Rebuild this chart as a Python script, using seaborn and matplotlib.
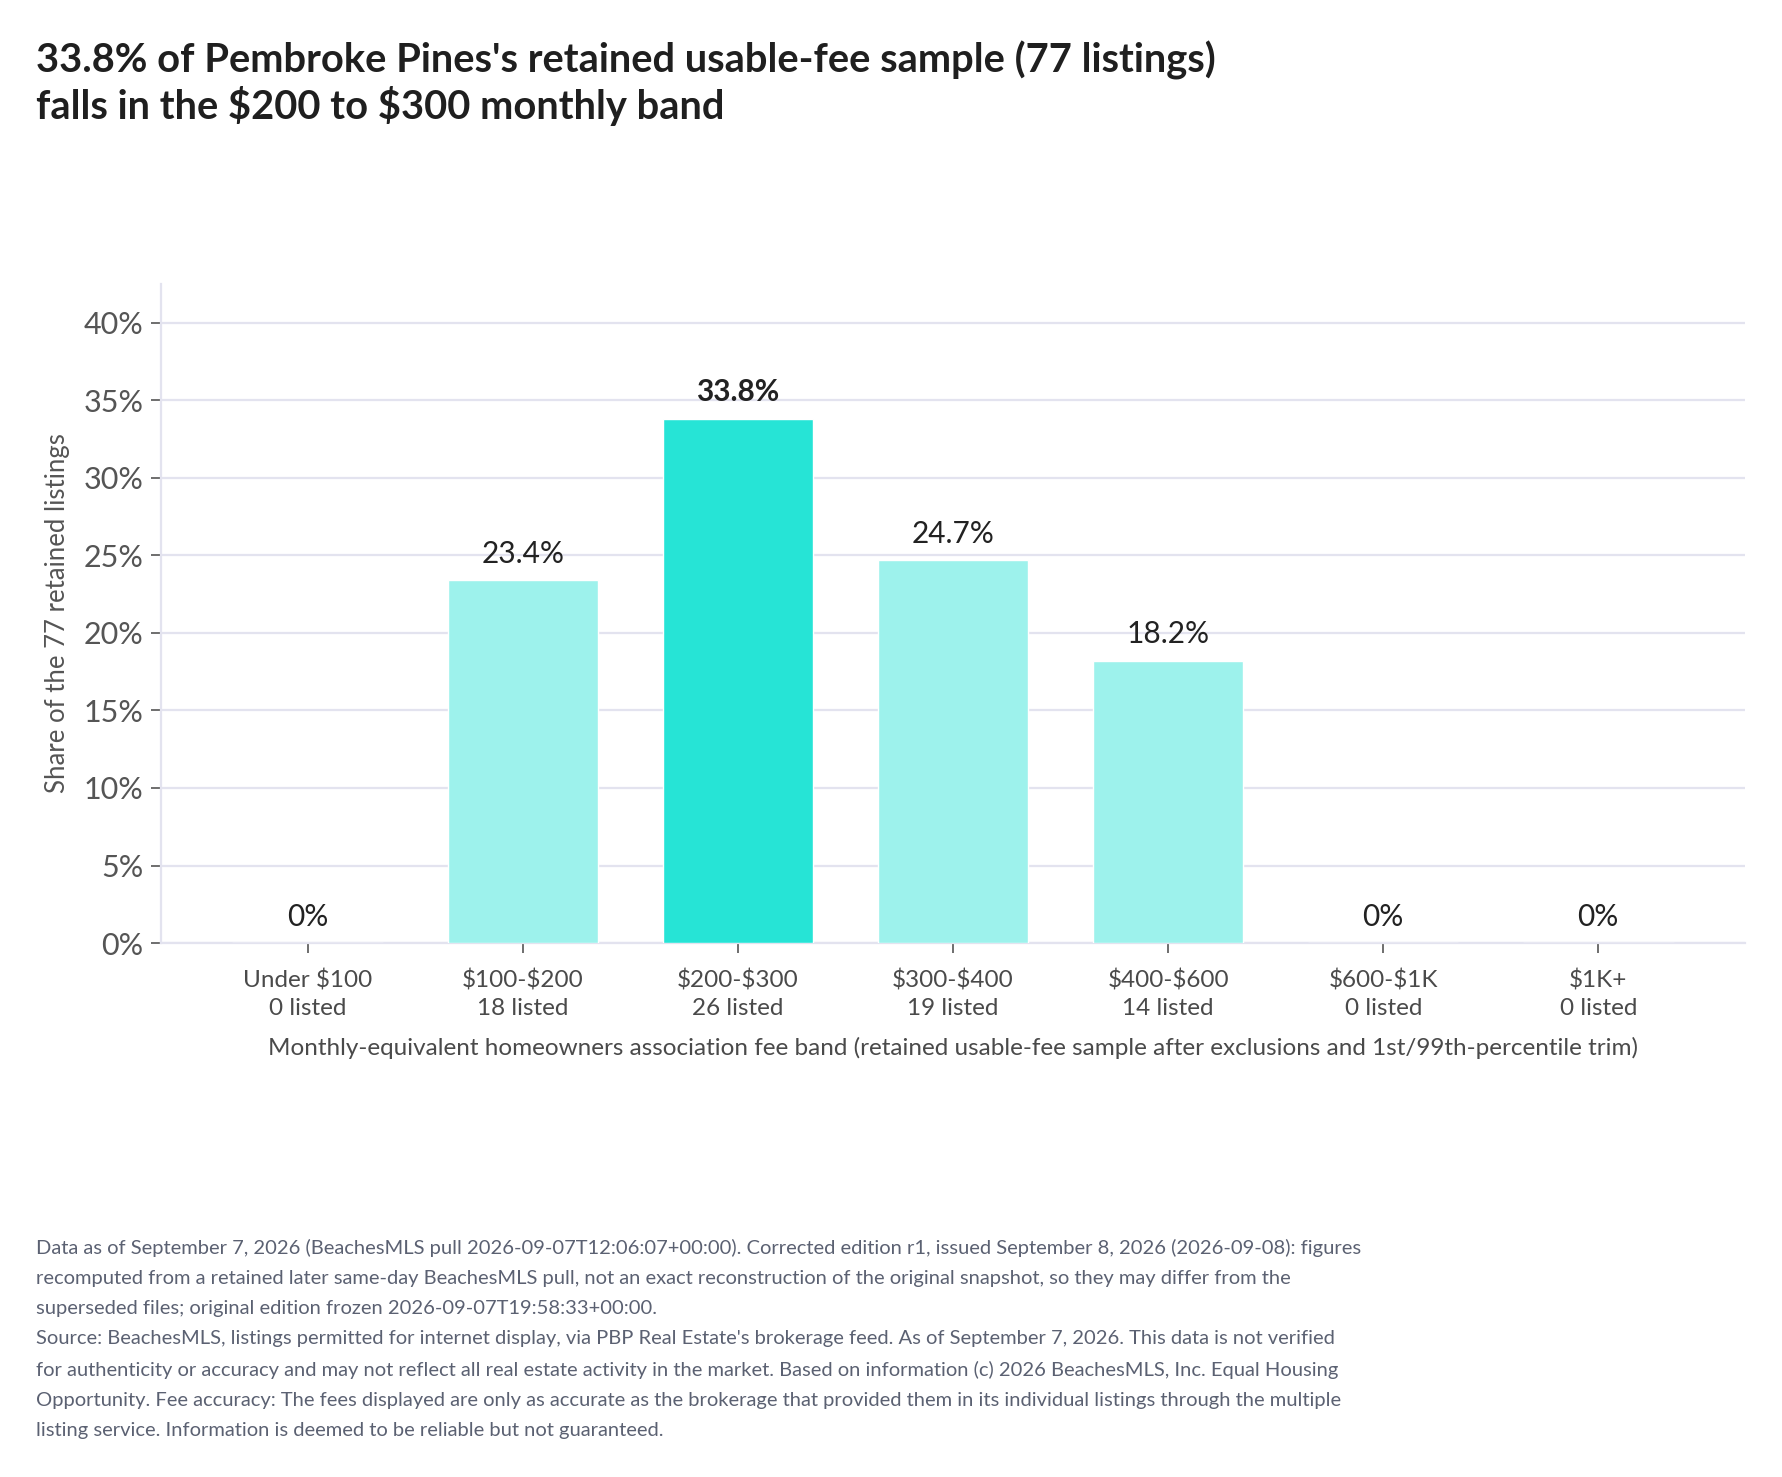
import matplotlib
matplotlib.use("Agg")
import matplotlib.pyplot as plt
import seaborn as sns
import pandas as pd
from matplotlib.ticker import FuncFormatter, MultipleLocator

bands = ["Under $100", "$100-$200", "$200-$300", "$300-$400", "$400-$600", "$600-$1K", "$1K+"]
counts = [0, 18, 26, 19, 14, 0, 0]
shares = [0.0, 23.4, 33.8, 24.7, 18.2, 0.0, 0.0]
highlight = "$200-$300"

title = ("33.8% of Pembroke Pines's retained usable-fee sample (77 listings)\n"
         "falls in the $200 to $300 monthly band")
xlabel = ("Monthly-equivalent homeowners association fee band "
          "(retained usable-fee sample after exclusions and 1st/99th-percentile trim)")
ylabel = "Share of the 77 retained listings"
footnote = (
    "Data as of September 7, 2026 (BeachesMLS pull 2026-09-07T12:06:07+00:00). Corrected edition r1, issued September 8, 2026 (2026-09-08): figures\n"
    "recomputed from a retained later same-day BeachesMLS pull, not an exact reconstruction of the original snapshot, so they may differ from the\n"
    "superseded files; original edition frozen 2026-09-07T19:58:33+00:00.\n"
    "Source: BeachesMLS, listings permitted for internet display, via PBP Real Estate's brokerage feed. As of September 7, 2026. This data is not verified\n"
    "for authenticity or accuracy and may not reflect all real estate activity in the market. Based on information (c) 2026 BeachesMLS, Inc. Equal Housing\n"
    "Opportunity. Fee accuracy: The fees displayed are only as accurate as the brokerage that provided them in its individual listings through the multiple\n"
    "listing service. Information is deemed to be reliable but not guaranteed."
)

HI = "#26E4D6"
LO = "#9DF2EC"
GRID = "#E3E3EF"

sns.set_theme(style="white")
plt.rcParams["font.family"] = ["Lato", "DejaVu Sans"]
plt.rcParams["text.parse_math"] = False

df = pd.DataFrame({"band": bands, "share": shares, "count": counts})
df["tick"] = [f"{b}\n{c} listed" for b, c in zip(bands, counts)]
palette = {b: (HI if b == highlight else LO) for b in bands}

fig = plt.figure(figsize=(17.82, 14.77), dpi=100)
ax = fig.add_axes([0.0906, 0.3615, 0.8884, 0.4462])

sns.barplot(data=df, x="band", y="share", hue="band", palette=palette,
            width=0.7, saturation=1, legend=False, ax=ax, zorder=3)

ax.set_ylim(0, 42.5)
ax.set_xlim(-0.68, 6.68)
ax.yaxis.set_major_locator(MultipleLocator(5))
ax.yaxis.set_major_formatter(FuncFormatter(lambda v, _: f"{v:.0f}%"))
ax.grid(axis="y", color=GRID, linewidth=1.6, zorder=0)
ax.set_axisbelow(True)

for side in ["top", "right"]:
    ax.spines[side].set_visible(False)
for side in ["left", "bottom"]:
    ax.spines[side].set_color(GRID)
    ax.spines[side].set_linewidth(1.6)

ax.set_xticks(range(len(bands)))
ax.set_xticklabels(df["tick"], fontsize=17.5, color="#4a4a4a", linespacing=1.4)
ax.tick_params(axis="x", length=7, width=1.2, color="#555555", pad=12, bottom=True)
ax.tick_params(axis="y", length=7, width=1.2, color="#555555", pad=6, left=True,
               labelsize=22, labelcolor="#555555")

ax.set_xlabel(xlabel, fontsize=17.5, color="#4a4a4a", labelpad=13)
ax.set_ylabel(ylabel, fontsize=18.5, color="#555555", labelpad=10)

for i, (b, v) in enumerate(zip(bands, shares)):
    txt = "0%" if v == 0 else f"{v:.1f}%"
    ax.annotate(txt, (i, v), xytext=(0, 9), textcoords="offset points",
                ha="center", va="bottom", fontsize=21.5, color="#222222",
                fontweight="bold" if b == highlight else "normal")

fig.text(0.02, 0.9725, title, fontsize=28.7, fontweight="bold", color="#1f1f1f",
         ha="left", va="top", linespacing=1.2)
fig.text(0.02, 0.161, footnote, fontsize=14.5, color="#5b6172",
         ha="left", va="top", linespacing=1.92)

fig.savefig("out.png", dpi=100)
